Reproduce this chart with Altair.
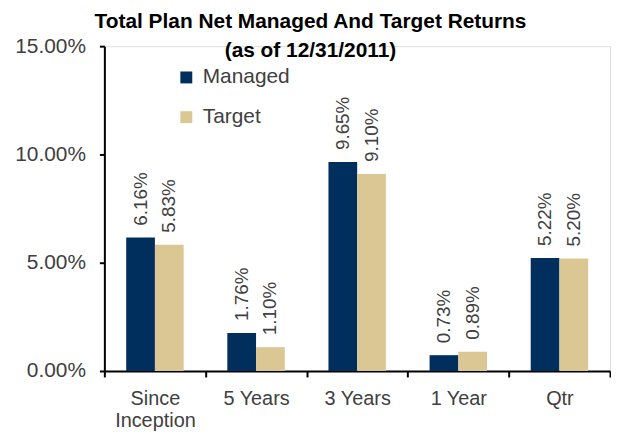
import altair as alt
import pandas as pd

categories = ["Since Inception", "5 Years", "3 Years", "1 Year", "Qtr"]
managed = [6.16, 1.76, 9.65, 0.73, 5.22]
target = [5.83, 1.10, 9.10, 0.89, 5.20]
series = ["Managed", "Target"]
colors = ["#002E5D", "#DAC793"]
y_ticks = [0, 5, 10, 15]
title_lines = ["Total Plan Net Managed And Target Returns", "(as of 12/31/2011)"]

rows = []
for c, m, t in zip(categories, managed, target):
    rows.append({"period": c, "series": series[0], "value": m})
    rows.append({"period": c, "series": series[1], "value": t})
df = pd.DataFrame(rows)
df["label"] = df["value"].map(lambda v: f"{v:.2f}%")

FONT = "Liberation Sans"
GRAY = "#404040"

x = alt.X(
    "period:N",
    sort=categories,
    scale=alt.Scale(paddingInner=0, paddingOuter=0),
    axis=alt.Axis(
        title=None, labelAngle=0, labelFontSize=20, labelColor=GRAY, labelFont=FONT,
        tickBand="extent", tickSize=6, tickWidth=2, tickColor="black",
        domainColor="black", domainWidth=2, labelPadding=12, labelLineHeight=22,
        labelExpr="datum.label == 'Since Inception' ? ['Since', 'Inception'] : datum.label",
    ),
)
xo = alt.XOffset("series:N", sort=series, scale=alt.Scale(paddingOuter=0.76, paddingInner=0))
y = alt.Y(
    "value:Q",
    scale=alt.Scale(domain=[0, 15], nice=False),
    axis=alt.Axis(
        title=None, values=y_ticks, grid=False,
        labelExpr="format(datum.value, '.2f') + '%'",
        labelFontSize=21, labelColor=GRAY, labelFont=FONT, labelPadding=14,
        tickSize=5, tickWidth=2, tickColor="black", domainColor="black", domainWidth=2,
    ),
)
color = alt.Color(
    "series:N",
    sort=series,
    scale=alt.Scale(domain=series, range=colors),
    legend=alt.Legend(
        title=None, orient="none", legendX=72, legendY=21, symbolType="square",
        symbolSize=144, symbolStrokeWidth=0, labelFontSize=21, labelColor=GRAY,
        labelFont=FONT, rowPadding=18, labelOffset=6, padding=0,
    ),
)

bars = alt.Chart(df).mark_bar().encode(x=x, xOffset=xo, y=y, color=color)
labels = alt.Chart(df).mark_text(
    angle=270, align="left", baseline="middle", dx=12, fontSize=19, color=GRAY, font=FONT
).encode(x=x, xOffset=xo, y=y, text="label:N")

chart = (
    alt.layer(bars, labels)
    .properties(
        width=607,
        height=424,
        autosize=alt.AutoSizeParams(type="fit", contains="padding"),
        padding={"left": 6, "top": 2, "right": 0, "bottom": 0},
        title=alt.TitleParams(
            text=title_lines, fontSize=21, font=FONT, fontWeight="bold", color="black",
            lineHeight=29, offset=-26, dx=-47, anchor="middle",
        ),
    )
    .configure_view(stroke=None)
    .configure(background="white")
)

chart.save("out.html", embed_options={"renderer": "svg", "actions": False})
